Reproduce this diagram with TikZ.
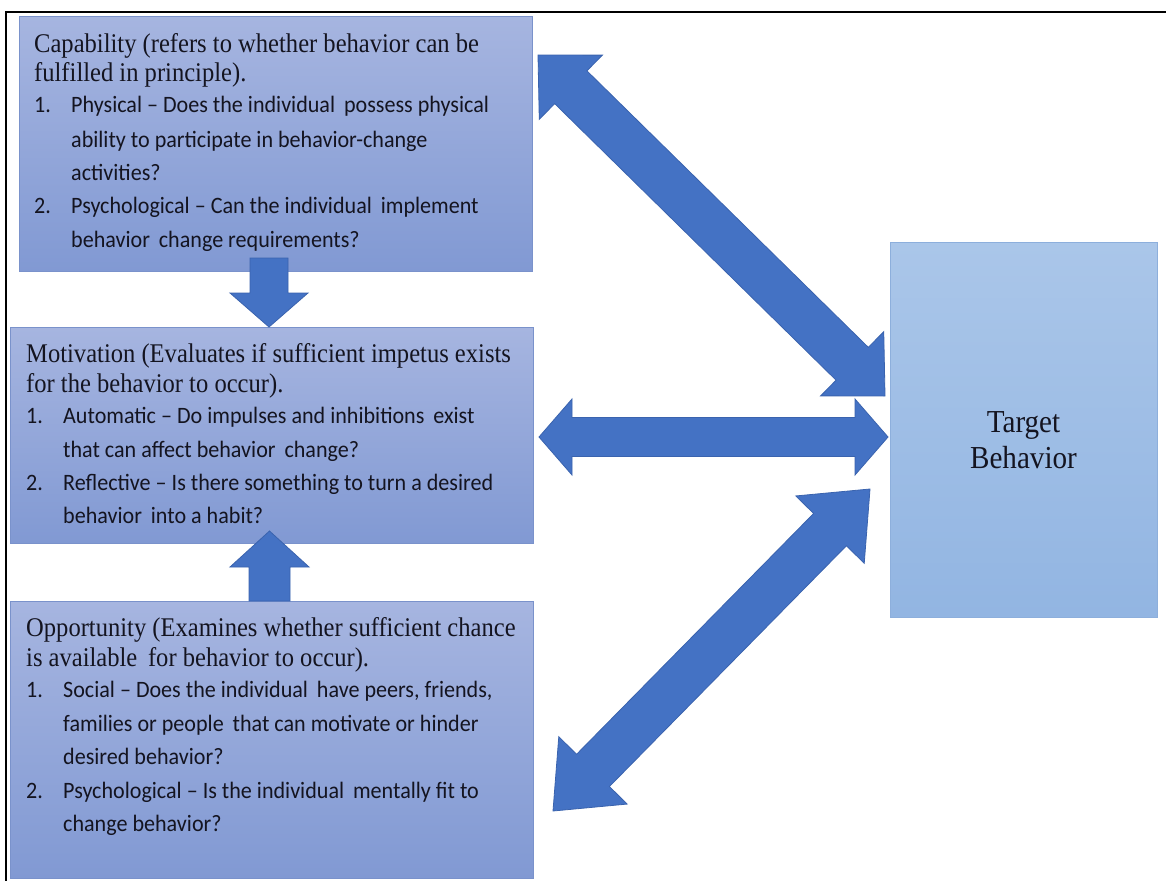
\documentclass[tikz,border=0pt]{standalone}
\usepackage{fontspec}
\setmainfont{Liberation Serif}[FakeStretch=0.91]
\newfontfamily\itemfont{Carlito}[FakeStretch=0.94]
\usetikzlibrary{calc}
\definecolor{boxtop}{HTML}{A6B5E0}
\definecolor{boxbot}{HTML}{8199D3}
\definecolor{boxline}{HTML}{7A92CB}
\definecolor{tgttop}{HTML}{AAC6E9}
\definecolor{tgtbot}{HTML}{92B5E2}
\definecolor{tgtline}{HTML}{8DAFDC}
\definecolor{arrowfill}{HTML}{4472C4}
\definecolor{arrowline}{HTML}{3A63AE}
\definecolor{inktext}{HTML}{141420}
% double-headed block arrow: #1 tip A, #2 tip B, #3 shaft half width, #4 head half width, #5 head length
\newcommand{\blockdbl}[5]{%
  \filldraw[blockarrow] (#1)
    -- ($(#1)!#5!(#2)!#4!90:(#2)$) -- ($(#1)!#5!(#2)!#3!90:(#2)$)
    -- ($(#2)!#5!(#1)!#3!-90:(#1)$) -- ($(#2)!#5!(#1)!#4!-90:(#1)$)
    -- (#2)
    -- ($(#2)!#5!(#1)!#4!90:(#1)$) -- ($(#2)!#5!(#1)!#3!90:(#1)$)
    -- ($(#1)!#5!(#2)!#3!-90:(#2)$) -- ($(#1)!#5!(#2)!#4!-90:(#2)$)
    -- cycle;}
% single block arrow: #1 tail centre, #2 tip
\newcommand{\blockone}[5]{%
  \filldraw[blockarrow] ($(#1)!#3!90:(#2)$)
    -- ($(#2)!#5!(#1)!#3!-90:(#1)$) -- ($(#2)!#5!(#1)!#4!-90:(#1)$)
    -- (#2)
    -- ($(#2)!#5!(#1)!#4!90:(#1)$) -- ($(#2)!#5!(#1)!#3!90:(#1)$)
    -- ($(#1)!#3!-90:(#2)$) -- cycle;}
\begin{document}
\begin{tikzpicture}[x=1pt,y=-1pt,
  cbox/.style={rectangle, draw=boxline, line width=1pt, top color=boxtop, bottom color=boxbot, anchor=north west, inner sep=0pt},
  tbox/.style={rectangle, draw=tgtline, line width=1pt, top color=tgttop, bottom color=tgtbot, anchor=north west, inner sep=0pt},
  blockarrow/.style={fill=arrowfill, draw=arrowline, line width=0.8pt, line join=miter},
  headtxt/.style={anchor=base west, inner sep=0pt, text=inktext, font=\fontsize{27}{30}\selectfont},
  itemtxt/.style={anchor=base west, inner sep=0pt, text=inktext, font=\itemfont\fontsize{23.5}{33}\selectfont},
  tgttxt/.style={anchor=base, inner sep=0pt, text=inktext, font=\fontsize{32}{36}\selectfont}]
\useasboundingbox (0,0) rectangle (1166,880);
\fill[white] (0,0) rectangle (1166,880);
% outer frame
\draw[line width=2pt, black] (5.5,890) -- (5.5,12) -- (1175,12);

% boxes
\node[cbox, minimum width=513pt, minimum height=255pt] (cap) at (19,16) {};
\node[cbox, minimum width=523pt, minimum height=216pt] (mot) at (10,327) {};
\node[cbox, minimum width=523pt, minimum height=277pt] (opp) at (10,601) {};
\node[tbox, minimum width=267pt, minimum height=375pt] (tgt) at (890,242) {};

% Capability text
\node[headtxt] (c1) at (34,53) {Capability (refers to whether behavior can be};
\node[headtxt] (c2) at (34,82) {fulfilled in principle).};
\node[itemtxt] (c3n) at (34,113) {1.};
\node[itemtxt] (c3) at (71,113) {Physical – Does the individual\, possess physical};
\node[itemtxt] (c4) at (71,147) {ability to participate in behavior-change};
\node[itemtxt] (c5) at (71,180) {activities?};
\node[itemtxt] (c6n) at (34,213) {2.};
\node[itemtxt] (c6) at (71,213) {Psychological – Can the individual\, implement};
\node[itemtxt] (c7) at (71,247) {behavior\, change requirements?};

% Motivation text
\node[headtxt] (m1) at (26,362) {Motivation (Evaluates if sufficient impetus exists};
\node[headtxt] (m2) at (26,392) {for the behavior to occur).};
\node[itemtxt] (m3n) at (26,423) {1.};
\node[itemtxt] (m3) at (63,423) {Automatic – Do impulses and inhibitions\, exist};
\node[itemtxt] (m4) at (63,457) {that can affect behavior\, change?};
\node[itemtxt] (m5n) at (26,490) {2.};
\node[itemtxt] (m5) at (63,490) {Reflective – Is there something to turn a desired};
\node[itemtxt] (m6) at (63,523) {behavior\, into a habit?};

% Opportunity text
\node[headtxt] (o1) at (26,636) {Opportunity (Examines whether sufficient chance};
\node[headtxt] (o2) at (26,666) {is available\, for behavior to occur).};
\node[itemtxt] (o3n) at (26,697) {1.};
\node[itemtxt] (o3) at (63,697) {Social – Does the individual\, have peers, friends,};
\node[itemtxt] (o4) at (63,731) {families or people\, that can motivate or hinder};
\node[itemtxt] (o5) at (63,764) {desired behavior?};
\node[itemtxt] (o6n) at (26,798) {2.};
\node[itemtxt] (o6) at (63,798) {Psychological – Is the individual\, mentally fit to};
\node[itemtxt] (o7) at (63,831) {change behavior?};

% Target text
\node[tgttxt] (t1) at (1023.5,432) {Target};
\node[tgttxt] (t2) at (1023.5,468) {Behavior};

% arrow end points
\coordinate (dnA) at (269,258);
\coordinate (dnB) at (269,327);
\coordinate (upA) at (269.5,601);
\coordinate (upB) at (269.5,531);
\coordinate (hzA) at (539,437);
\coordinate (hzB) at (888,437);
\coordinate (dgA) at (538,55);
\coordinate (dgB) at (885,396);
\coordinate (dbA) at (553,811);
\coordinate (dbB) at (870,489);

\blockone{dnA}{dnB}{19pt}{39pt}{34pt}
\blockone{upA}{upB}{20.5pt}{39.5pt}{36pt}
\blockdbl{hzA}{hzB}{19.5pt}{38pt}{33pt}
\blockdbl{dgA}{dgB}{23pt}{45pt}{46pt}
\blockdbl{dbA}{dbB}{23pt}{48pt}{57pt}
\end{tikzpicture}
\end{document}
